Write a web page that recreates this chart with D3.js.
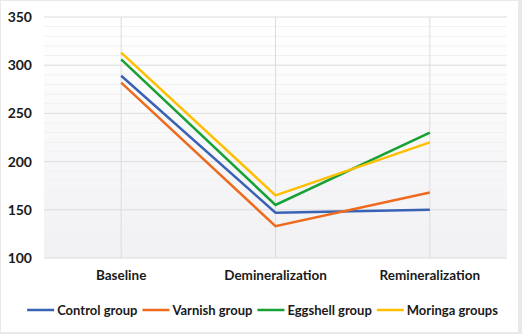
<!DOCTYPE html>
<html>
<head>
<meta charset="utf-8">
<script src="https://cdn.jsdelivr.net/npm/d3@7"></script>
<style>
  html, body { margin: 0; padding: 0; background: #e9e9e9; }
  svg { display: block; }
</style>
</head>
<body>
<svg id="svg"></svg>
<script>
const width = 522;
const height = 334;

// data
const stages = ["Baseline", "Demineralization", "Remineralization"];
const groups = ["Control group", "Varnish group", "Eggshell group", "Moringa groups"];
const control = [289, 147, 150];
const varnish = [282, 133, 168];
const eggshell = [306, 155, 230];
const moringa = [313, 165, 220];
const yTicks = [100, 150, 200, 250, 300, 350];

const colours = ["#3a62b4", "#ee6a1c", "#16a134", "#ffbf00"];
const series = [control, varnish, eggshell, moringa];

const margin = { top: 17, right: 15, bottom: 76, left: 44 };

let svg = d3.select("#svg")
    .attr("width", width)
    .attr("height", height);

// card
svg.append("rect")
    .attr("x", 1).attr("y", 1)
    .attr("width", width - 5).attr("height", height - 3)
    .attr("fill", "#ffffff");

let xScale = d3.scaleBand()
    .domain(stages)
    .range([margin.left, width - margin.right]);

let yScale = d3.scaleLinear()
    .domain([100, 350])
    .range([height - margin.bottom, margin.top]);

// soft gradient behind plot
const grad = svg.append("defs").append("linearGradient")
    .attr("id", "bg").attr("x1", 0).attr("y1", 0).attr("x2", 0).attr("y2", 1);
grad.append("stop").attr("offset", "0%").attr("stop-color", "#ffffff");
grad.append("stop").attr("offset", "100%").attr("stop-color", "#f1f1f4");

svg.append("rect")
    .attr("x", margin.left)
    .attr("y", margin.top)
    .attr("width", width - margin.left - margin.right)
    .attr("height", height - margin.top - margin.bottom)
    .attr("fill", "url(#bg)");

// minor gridlines
svg.append("g")
    .selectAll("line")
    .data(d3.range(110, 350, 10).filter(v => v % 50 !== 0))
    .enter()
    .append("line")
        .attr("x1", margin.left)
        .attr("x2", width - margin.right)
        .attr("y1", d => yScale(d))
        .attr("y2", d => yScale(d))
        .attr("stroke", "#f1f1f3")
        .attr("stroke-width", 1);

// major gridlines
svg.append("g")
    .selectAll("line")
    .data(yTicks)
    .enter()
    .append("line")
        .attr("x1", margin.left)
        .attr("x2", width - margin.right)
        .attr("y1", d => yScale(d))
        .attr("y2", d => yScale(d))
        .attr("stroke", "#dcdcdf")
        .attr("stroke-width", 1);

// vertical gridlines at categories
svg.append("g")
    .selectAll("line")
    .data(stages)
    .enter()
    .append("line")
        .attr("x1", d => xScale(d) + xScale.bandwidth() / 2)
        .attr("x2", d => xScale(d) + xScale.bandwidth() / 2)
        .attr("y1", yScale(100))
        .attr("y2", margin.top)
        .attr("stroke", "#dcdcdf")
        .attr("stroke-width", 1);

// y axis labels
svg.append("g")
    .attr("transform", `translate(${margin.left}, 0)`)
    .call(d3.axisLeft(yScale).tickValues(yTicks).tickSize(0).tickPadding(12))
    .call(g => g.select(".domain").remove())
    .selectAll("text")
    .attr("font-family", "Lato, 'Open Sans', sans-serif")
    .attr("font-weight", "bold")
    .attr("font-size", "14px")
    .attr("fill", "#1a1a1a");

// x axis labels
svg.append("g")
    .attr("transform", `translate(0, ${yScale(100)})`)
    .call(d3.axisBottom(xScale).tickSize(0).tickPadding(12))
    .call(g => g.select(".domain").remove())
    .selectAll("text")
    .attr("font-family", "Lato, 'Open Sans', sans-serif")
    .attr("font-weight", "bold")
    .attr("font-size", "13.5px")
    .attr("fill", "#1a1a1a");

// lines
const line = d3.line()
    .x((d, i) => xScale(stages[i]) + xScale.bandwidth() / 2)
    .y(d => yScale(d));

svg.append("g")
    .selectAll("path")
    .data(series)
    .enter()
    .append("path")
        .attr("d", d => line(d))
        .attr("fill", "none")
        .attr("stroke", (d, i) => colours[i])
        .attr("stroke-width", 2.5)
        .attr("stroke-linejoin", "miter");

// legend, laid out one after another and centred
const legendY = 310;
const swatch = 27;
let legend = svg.append("g");
let cursor = 0;
groups.forEach((name, i) => {
    legend.append("line")
        .attr("x1", cursor)
        .attr("x2", cursor + swatch)
        .attr("y1", legendY)
        .attr("y2", legendY)
        .attr("stroke", colours[i])
        .attr("stroke-width", 2.5);
    let t = legend.append("text")
        .text(name)
        .attr("x", cursor + swatch + 3)
        .attr("y", legendY)
        .attr("dy", "0.35em")
        .attr("font-family", "Lato, 'Open Sans', sans-serif")
        .attr("font-weight", "bold")
        .attr("font-size", "13px")
        .attr("fill", "#1a1a1a");
    cursor += swatch + 3 + t.node().getComputedTextLength() + 5;
});
cursor -= 5;
legend.attr("transform", `translate(${(30 + 495) / 2 - cursor / 2}, 0)`);
</script>
</body>
</html>
